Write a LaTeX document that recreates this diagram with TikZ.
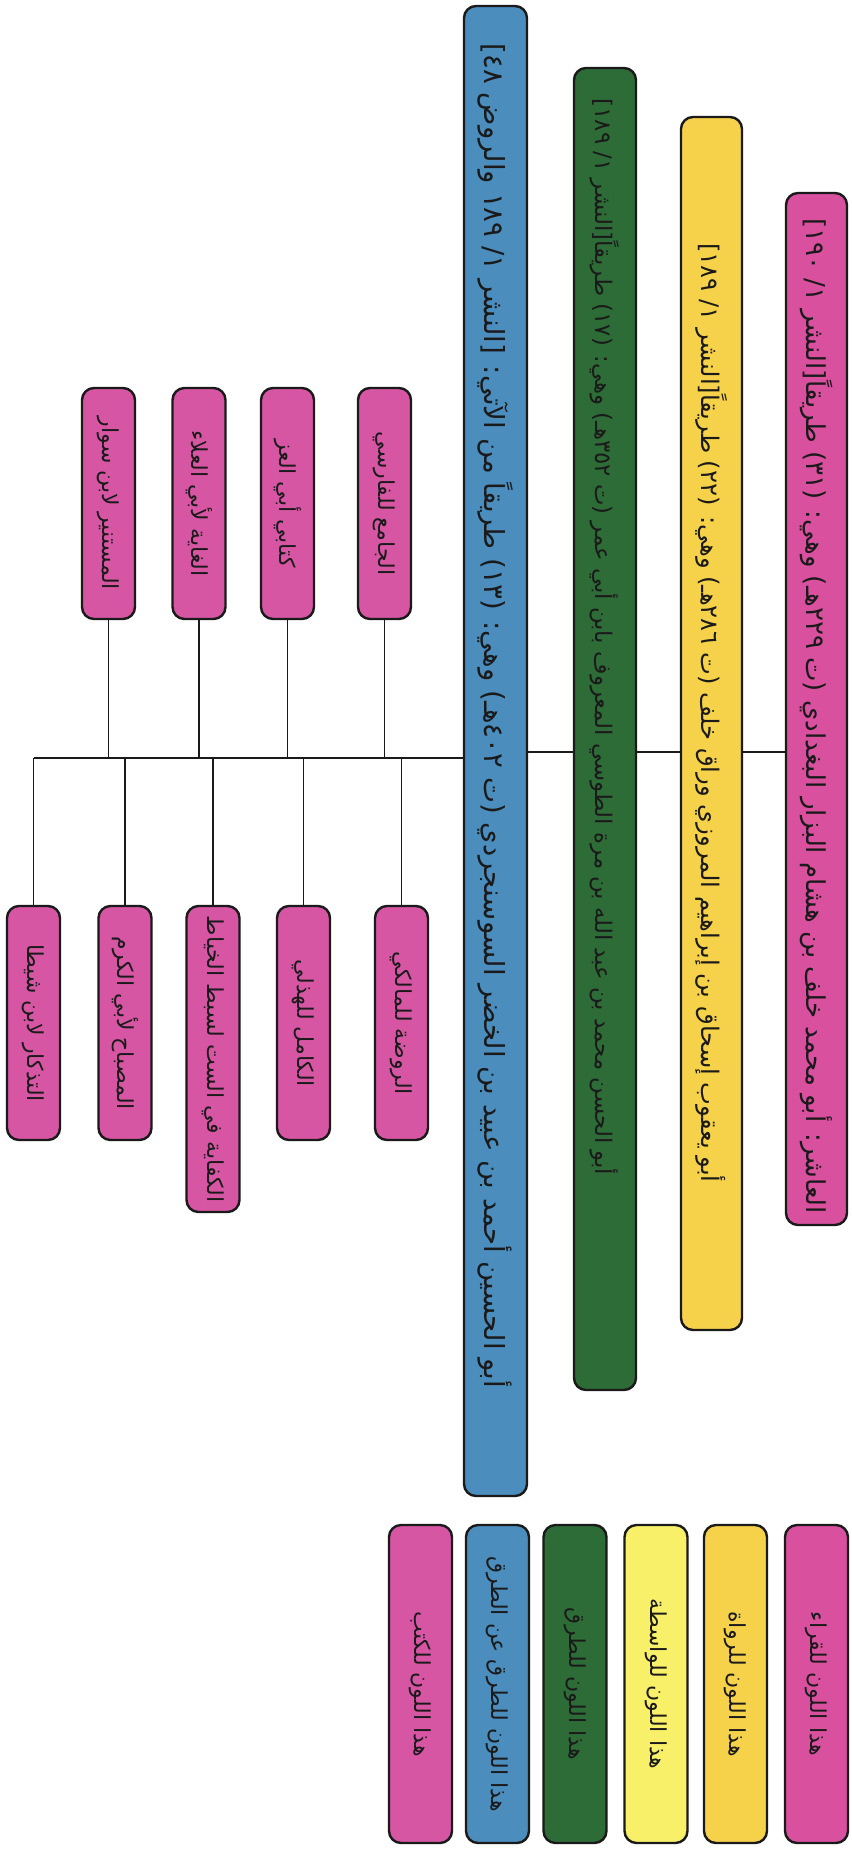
\documentclass[tikz,border=0pt]{standalone}
\usepackage{fontspec}
\usepackage{xcolor}
\usepackage{tikz}
\usetikzlibrary{positioning,calc}
\TeXXeTstate=1
\newfontfamily\arabicfont[Script=Arabic]{DejaVu Sans}
\definecolor{ink}{HTML}{1A1A1A}
\definecolor{rose}{HTML}{D9509F}
\definecolor{rosebook}{HTML}{D656A4}
\definecolor{gold}{HTML}{F6D24A}
\definecolor{lemon}{HTML}{F9F06A}
\definecolor{forest}{HTML}{2D6B37}
\definecolor{steel}{HTML}{4B8DBD}
\tikzset{
  every node/.style={font=\arabicfont\fontsize{11}{13}\selectfont,text=ink},
  card/.style={draw=ink,line width=1.2pt,rounded corners=6pt,rotate=-90,inner sep=0pt,align=center},
  readercard/.style={card,fill=rose,minimum height=30.5pt,font=\arabicfont\fontsize{13}{15}\selectfont},
  rawicard/.style={card,fill=gold,minimum height=30.5pt,font=\arabicfont\fontsize{12.1}{14}\selectfont},
  tariqcard/.style={card,fill=forest,minimum height=31pt,font=\arabicfont\fontsize{11.4}{14}\selectfont},
  subcard/.style={card,fill=steel,minimum height=31.5pt,font=\arabicfont\fontsize{13.8}{16}\selectfont},
  bookcard/.style={card,fill=rosebook,minimum height=26.5pt},
  keycard/.style={card,minimum height=31.5pt,minimum width=159pt},
  link/.style={draw=ink,line width=0.7pt}
}

\begin{document}
\begin{tikzpicture}[x=0.5pt,y=-0.5pt]
  \useasboundingbox (0,0) rectangle (852,1849);
  \fill[white] (0,0) rectangle (852,1849);

  % readers, narrators, ways
  \node[readercard,minimum width=516pt] (reader) at (816.5,709)
    {\hspace*{7pt}\beginR العاشر: أبو محمد خلف بن هشام البزار البغدادي (ت ٢٢٩هـ) وهي: (٣١) طريقاً[النشر ١/ ١٩٠]\endR};
  \node[rawicard,minimum width=606.5pt] (rawi) at (711.5,723.5)
    {\beginR أبو يعقوب إسحاق بن إبراهيم المروزي وراق خلف (ت ٢٨٦هـ) وهي: (٢٢) طريقاً[النشر ١/ ١٨٩]\endR\hspace*{10.5pt}};
  \node[tariqcard,minimum width=661pt] (tariq) at (605,729)
    {\beginR أبو الحسن محمد بن عبد الله بن مرة الطوسي المعروف بابن أبي عمر (ت ٣٥٢هـ) وهي: (١٧) طريقاً[النشر ١/ ١٨٩]\endR\hspace*{92pt}};
  \node[subcard,minimum width=745pt] (subtariq) at (495.5,751)
    {\beginR أبو الحسين أحمد بن عبيد بن الخضر السوسنجردي (ت ٤٠٢هـ) وهي: (١٣) طريقاً من الآتي: [النشر ١/ ١٨٩ والروض ٤٨]\endR\hspace*{35pt}};

  % books above the trunk
  \node[bookcard,minimum width=115.5pt] (jami) at (384.5,503.5) {\beginR الجامع للفارسي\endR};
  \node[bookcard,minimum width=115.5pt] (kitabay) at (287.5,503.5) {\beginR كتابي أبي العز\endR};
  \node[bookcard,minimum width=115.5pt] (ghaya) at (199,503.5) {\beginR الغاية لأبي العلاء\endR};
  \node[bookcard,minimum width=115.5pt] (mustanir) at (108.5,503.5) {\beginR المستنير لابن سوار\endR};

  % books below the trunk
  \node[bookcard,minimum width=117pt] (rawda) at (401.5,1023) {\beginR الروضة للمالكي\endR};
  \node[bookcard,minimum width=117pt] (kamil) at (303.5,1023) {\beginR الكامل للهذلي\endR};
  \node[bookcard,minimum width=153pt] (kifaya) at (213,1059) {\beginR الكفاية في الست لسبط الخياط\endR};
  \node[bookcard,minimum width=117pt] (misbah) at (125,1023) {\beginR المصباح لأبي الكرم\endR};
  \node[bookcard,minimum width=117pt] (tadhkar) at (33.5,1023) {\beginR التذكار لابن شيطا\endR};

  \coordinate (lvl) at (0,752);
  \coordinate (trunk) at (33.5,758);
  \draw[link] (reader.south |- lvl) -- (rawi.north |- lvl);
  \draw[link] (rawi.south |- lvl) -- (tariq.north |- lvl);
  \draw[link] (tariq.south |- lvl) -- (subtariq.north |- lvl);
  \draw[link] (subtariq.south |- trunk) -- (trunk);
  \draw[link] (jami.east) -- (jami.east |- trunk);
  \draw[link] (kitabay.east) -- (kitabay.east |- trunk);
  \draw[link] (ghaya.east) -- (ghaya.east |- trunk);
  \draw[link] (mustanir.east) -- (mustanir.east |- trunk);
  \draw[link] (rawda.west |- trunk) -- (rawda.west);
  \draw[link] (kamil.west |- trunk) -- (kamil.west);
  \draw[link] (kifaya.west |- trunk) -- (kifaya.west);
  \draw[link] (misbah.west |- trunk) -- (misbah.west);
  \draw[link] (trunk) -- (tadhkar.west);

  % colour key
  \node[keycard,fill=rose] (keyqurra) at (816.5,1684) {\beginR هذا اللون للقراء\endR};
  \node[keycard,fill=gold] (keyruwat) at (735.5,1684) {\beginR هذا اللون للرواة\endR};
  \node[keycard,fill=lemon] (keywasita) at (656,1684) {\beginR هذا اللون للواسطة\endR};
  \node[keycard,fill=forest] (keyturuq) at (575,1684) {\beginR هذا اللون للطرق\endR};
  \node[keycard,fill=steel] (keysub) at (497.5,1684) {\beginR هذا اللون للطرق عن الطرق\endR};
  \node[keycard,fill=rosebook] (keykutub) at (420.5,1684) {\beginR هذا اللون للكتب\endR};
\end{tikzpicture}
\end{document}
